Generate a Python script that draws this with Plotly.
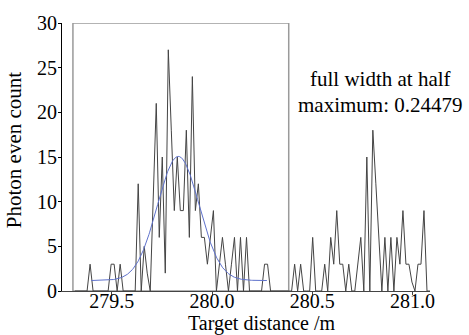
import numpy as np
import plotly.graph_objects as go

# ---- data ----
BIN_START = 279.317      # first bin position (m)
BIN_WIDTH = 0.015        # bin width (m)
counts = [
    0, 0, 0, 0, 0, 3, 0, 0, 0, 0, 0, 0, 3, 3, 0, 3, 0, 0, 0, 0, 0,
    12, 0, 5, 2, 0, 11, 21, 6, 15, 2, 27, 18, 9, 15, 9, 9, 18, 6, 24,
    9, 12, 6, 6, 3, 6, 9, 0, 3, 6, 3, 0, 3, 6, 0, 6, 0, 6,
    0, 0, 0, 0, 0, 3, 3, 0, 0, 0, 0, 0, 0, 0, 0,
    3, 0, 3, 0, 0, 0, 6, 0, 0, 0, 3, 0, 6, 3, 9, 3, 3, 0, 3, 0, 0,
    3, 6, 0, 15, 0, 18, 12, 6, 0, 6, 0, 6, 0, 6, 3, 9, 3, 3, 1, 0,
    3, 3, 9, 0, 0,
]
distance = [BIN_START + BIN_WIDTH * i for i in range(len(counts))]

# Gaussian fit parameters
FIT_CENTER = 279.832
FIT_FWHM = 0.24479
FIT_AMP = 13.9
FIT_OFFSET = 1.17
FIT_START, FIT_END = 279.3985, 280.2735

# Gate window drawn as a box
WIN_START, WIN_END = 279.3065, 280.3825

x_ticks = [279.5, 280.0, 280.5, 281.0]
y_ticks = [0, 5, 10, 15, 20, 25, 30]

sigma = FIT_FWHM / (2 * np.sqrt(2 * np.log(2)))
fit_x = np.linspace(FIT_START, FIT_END, 300)
fit_y = FIT_OFFSET + FIT_AMP * np.exp(-(fit_x - FIT_CENTER) ** 2 / (2 * sigma ** 2))

FONT = "Liberation Serif, Times New Roman, serif"

fig = go.Figure()
fig.add_trace(go.Scatter(x=distance, y=counts, mode="lines",
                         line=dict(color="#444444", width=1), showlegend=False))
fig.add_trace(go.Scatter(x=fit_x, y=fit_y, mode="lines",
                         line=dict(color="#5f72cc", width=1), showlegend=False))

fig.add_shape(type="rect", x0=WIN_START, x1=WIN_END, y0=0, y1=30,
              xref="x", yref="y", line=dict(color="#9a9a9a", width=1.5),
              layer="below")

fig.update_layout(
    width=469, height=335,
    margin=dict(l=62, r=39, t=16, b=44),
    paper_bgcolor="white", plot_bgcolor="white",
    font=dict(family=FONT, size=20, color="black"),
    xaxis=dict(range=[279.252, 281.087], tickvals=x_ticks,
               ticktext=[f"{v:.1f}" for v in x_ticks],
               showgrid=False, zeroline=False, showline=True,
               linecolor="#444", linewidth=1, ticks="outside", ticklen=3,
               tickcolor="#444", ticklabelstandoff=-11,
               tickfont=dict(family=FONT, size=20)),
    yaxis=dict(range=[0, 30], tickvals=y_ticks,
               showgrid=False, zeroline=False, showline=True,
               linecolor="black", linewidth=1, ticks="outside", ticklen=3,
               tickcolor="black", ticklabelstandoff=-3,
               tickfont=dict(family=FONT, size=20)),
    annotations=[
        dict(text="Target distance /m", xref="paper", yref="paper",
             x=0.5435, y=-0.122, xanchor="center", yanchor="middle",
             borderpad=0, showarrow=False, font=dict(family=FONT, size=20)),
        dict(text="Photon even count", xref="paper", yref="paper",
             x=-0.130, y=0.526, xanchor="center", yanchor="middle",
             textangle=-90, showarrow=False, font=dict(family=FONT, size=21)),
        dict(text="full width at half", xref="x", yref="y",
             x=280.839, y=23.7, xanchor="center", yanchor="middle",
             showarrow=False, font=dict(family=FONT, size=21)),
        dict(text=f"maximum: {FIT_FWHM}", xref="x", yref="y",
             x=280.839, y=20.85, xanchor="center", yanchor="middle",
             showarrow=False, font=dict(family=FONT, size=21)),
    ],
)

fig.write_html("out.html", config={"displayModeBar": False},
               post_script="document.body.style.margin='0';")
